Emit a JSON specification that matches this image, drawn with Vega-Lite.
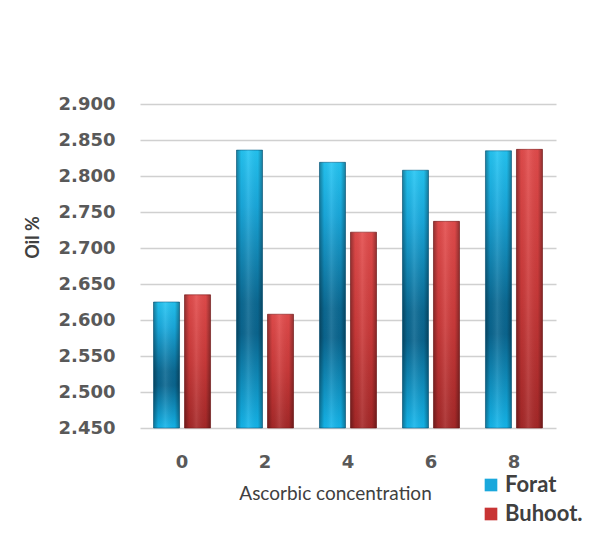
{
  "$schema": "https://vega.github.io/schema/vega-lite/v6.json",
  "autosize": {"type": "none"},
  "width": 416,
  "height": 324,
  "padding": {"left": 140, "top": 104, "right": 33, "bottom": 118},
  "background": "white",
  "data": {
    "values": [
      {"conc": "0", "variety": "Forat", "oil": 2.625},
      {"conc": "0", "variety": "Buhoot.", "oil": 2.635},
      {"conc": "2", "variety": "Forat", "oil": 2.836},
      {"conc": "2", "variety": "Buhoot.", "oil": 2.608},
      {"conc": "4", "variety": "Forat", "oil": 2.819},
      {"conc": "4", "variety": "Buhoot.", "oil": 2.722},
      {"conc": "6", "variety": "Forat", "oil": 2.808},
      {"conc": "6", "variety": "Buhoot.", "oil": 2.737},
      {"conc": "8", "variety": "Forat", "oil": 2.835},
      {"conc": "8", "variety": "Buhoot.", "oil": 2.837}
    ]
  },
  "encoding": {
    "x": {
      "field": "conc",
      "type": "nominal",
      "sort": ["0", "2", "4", "6", "8"],
      "scale": {"paddingInner": 0.313, "paddingOuter": 0.163},
      "axis": {
        "title": "Ascorbic concentration",
        "labelAngle": 0,
        "labelFont": "DejaVu Sans",
        "labelFontWeight": "bold",
        "labelFontSize": 18,
        "labelColor": "#595959",
        "labelPadding": 25,
        "ticks": false,
        "domain": false,
        "titleFont": "Lato",
        "titleFontWeight": "normal",
        "titleFontSize": 19,
        "titleColor": "#404040",
        "titleX": 195,
        "titleY": 56,
        "titleBaseline": "top",
        "titleAlign": "center"
      }
    },
    "xOffset": {
      "field": "variety",
      "type": "nominal",
      "scale": {"domain": ["Forat", "Buhoot."], "paddingInner": 0.161}
    },
    "y": {
      "field": "oil",
      "type": "quantitative",
      "scale": {"domain": [2.45, 2.9], "zero": false, "nice": false},
      "axis": {
        "title": "Oil  %",
        "values": [2.45, 2.5, 2.55, 2.6, 2.65, 2.7, 2.75, 2.8, 2.85, 2.9],
        "format": ".3f",
        "labelFont": "DejaVu Sans",
        "labelFontWeight": "bold",
        "labelFontSize": 18,
        "labelColor": "#595959",
        "labelPadding": 25,
        "ticks": false,
        "domain": false,
        "grid": true,
        "gridColor": "#d0d0d0",
        "gridWidth": 1.5,
        "titleFont": "Lato",
        "titleFontWeight": "bold",
        "titleFontSize": 18,
        "titleColor": "#404040",
        "titleX": -107,
        "titleY": 133,
        "titleAngle": -90,
        "titleAlign": "center",
        "titleBaseline": "middle"
      }
    },
    "y2": {"datum": 2.45}
  },
  "layer": [
    {
      "mark": {"type": "bar", "fillOpacity": 0},
      "encoding": {
        "fill": {
          "field": "variety",
          "type": "nominal",
          "scale": {"domain": ["Forat", "Buhoot."], "range": ["#1aa8dc", "#c83434"]},
          "legend": {
            "title": null,
            "orient": "none",
            "legendX": 340,
            "legendY": 370,
            "symbolType": "square",
            "symbolSize": 160,
            "symbolStrokeWidth": 0,
            "symbolOpacity": 1,
            "symbolFillOpacity": 1,
            "labelFont": "Lato",
            "labelFontWeight": "bold",
            "labelFontSize": 22,
            "labelColor": "#404040",
            "labelOffset": 3,
            "rowPadding": 7
          }
        }
      }
    },
    {
      "transform": [{"filter": "datum.variety === 'Forat'"}],
      "mark": {
        "type": "bar",
        "stroke": "#0b5f88",
        "strokeWidth": 1,
        "strokeOpacity": 0.6,
        "fill": {
          "gradient": "linear",
          "x1": 0, "y1": 0, "x2": 0, "y2": 1,
          "stops": [
            {"offset": 0, "color": "#24c6f4"},
            {"offset": 0.2, "color": "#19aade"},
            {"offset": 0.55, "color": "#0b6a94"},
            {"offset": 0.66, "color": "#0a6690"},
            {"offset": 1, "color": "#14b8ee"}
          ]
        }
      }
    },
    {
      "transform": [{"filter": "datum.variety === 'Buhoot.'"}],
      "mark": {
        "type": "bar",
        "stroke": "#7e1818",
        "strokeWidth": 1,
        "strokeOpacity": 0.6,
        "fill": {
          "gradient": "linear",
          "x1": 0, "y1": 0, "x2": 0, "y2": 1,
          "stops": [
            {"offset": 0, "color": "#e44c4c"},
            {"offset": 0.5, "color": "#cc3a3a"},
            {"offset": 1, "color": "#a62828"}
          ]
        }
      }
    },
    {
      "mark": {
        "type": "bar",
        "fill": {
          "gradient": "linear",
          "x1": 0, "y1": 0, "x2": 1, "y2": 0,
          "stops": [
            {"offset": 0, "color": "rgba(0,0,0,0.35)"},
            {"offset": 0.18, "color": "rgba(0,0,0,0.04)"},
            {"offset": 0.45, "color": "rgba(255,255,255,0.1)"},
            {"offset": 0.82, "color": "rgba(0,0,0,0.04)"},
            {"offset": 1, "color": "rgba(0,0,0,0.35)"}
          ]
        }
      }
    }
  ],
  "config": {"view": {"stroke": null}}
}
